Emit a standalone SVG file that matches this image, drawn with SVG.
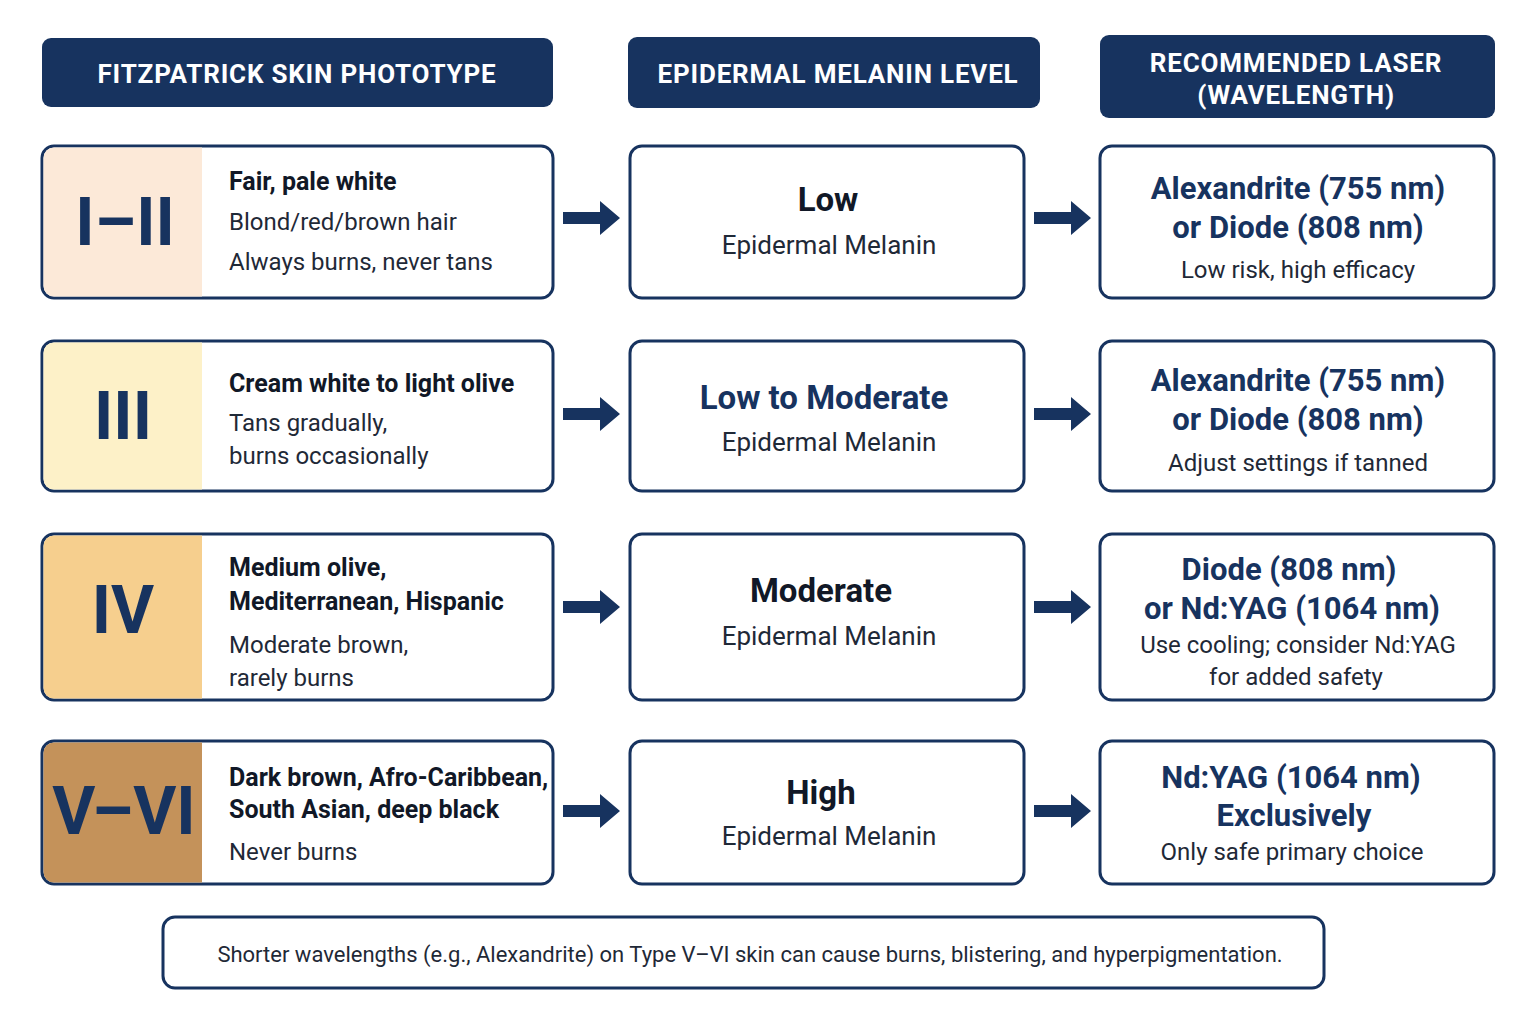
<svg xmlns="http://www.w3.org/2000/svg" width="1536" height="1023" viewBox="0 0 1536 1023">
<style>
text{font-family:Roboto,"Liberation Sans",sans-serif}
.hdr{fill:#17335f}
.ht{fill:#fff;font-weight:700;font-size:26px;text-anchor:middle;letter-spacing:0.8px}
.box{fill:#fff;stroke:#17335f;stroke-width:3}
.num{fill:#17335f;font-weight:700;font-size:66px;text-anchor:middle}
.b{fill:#111827;font-weight:700;font-size:25px}
.r{fill:#1f2937;font-size:24px}
.mb{fill:#111827;font-weight:700;font-size:33px;text-anchor:middle}
.mbn{fill:#17335f;font-weight:700;font-size:33px;text-anchor:middle}
.mr{fill:#1f2937;font-size:26px;text-anchor:middle}
.lb{fill:#17335f;font-weight:700;font-size:31px;text-anchor:middle}
.lr{fill:#1f2937;font-size:24px;text-anchor:middle}
.arr{fill:#17335f}
</style>
<rect width="1536" height="1023" fill="#fff"/>
<g id="headers">
<rect class="hdr" x="42" y="38" width="511" height="69" rx="9"/>
<text class="ht" x="297" y="83">FITZPATRICK SKIN PHOTOTYPE</text>
<rect class="hdr" x="628" y="37" width="412" height="71" rx="9"/>
<text class="ht" x="838" y="83">EPIDERMAL MELANIN LEVEL</text>
<rect class="hdr" x="1100" y="35" width="395" height="83" rx="9"/>
<text class="ht" x="1296" y="72">RECOMMENDED LASER</text>
<text class="ht" x="1296" y="104">(WAVELENGTH)</text>
</g>
<defs>
<path id="ar" d="M0,-6 H37 V-17 L57,0 L37,17 V6 H0 Z"/>
</defs>
<g id="connectors" class="arr">
<use href="#ar" x="563" y="218"/><use href="#ar" x="1034" y="218"/>
<use href="#ar" x="563" y="414"/><use href="#ar" x="1034" y="414"/>
<use href="#ar" x="563" y="607"/><use href="#ar" x="1034" y="607"/>
<use href="#ar" x="563" y="811"/><use href="#ar" x="1034" y="811"/>
</g>
<g id="row1">
<rect class="box" x="42" y="146" width="511" height="152" rx="12"/>
<path d="M54,147.5 H202 V296.5 H54 A10.5,10.5 0 0 1 43.5,286 V158 A10.5,10.5 0 0 1 54,147.5Z" fill="#fce9d8"/>
<text class="num" x="125" y="245">I–II</text>
<text class="b" x="229" y="190">Fair, pale white</text>
<text class="r" x="229" y="230">Blond/red/brown hair</text>
<text class="r" x="229" y="270">Always burns, never tans</text>
<rect class="box" x="630" y="146" width="394" height="152" rx="12"/>
<text class="mb" x="828" y="211">Low</text>
<text class="mr" x="829" y="254">Epidermal Melanin</text>
<rect class="box" x="1100" y="146" width="394" height="152" rx="12"/>
<text class="lb" x="1298" y="199">Alexandrite (755 nm)</text>
<text class="lb" x="1298" y="238">or Diode (808 nm)</text>
<text class="lr" x="1298" y="278">Low risk, high efficacy</text>
</g>
<g id="row2">
<rect class="box" x="42" y="341" width="511" height="150" rx="12"/>
<path d="M54,342.5 H202 V489.5 H54 A10.5,10.5 0 0 1 43.5,479 V353 A10.5,10.5 0 0 1 54,342.5Z" fill="#fdf1c8"/>
<text class="num" x="123" y="439">III</text>
<text class="b" x="229" y="392">Cream white to light olive</text>
<text class="r" x="229" y="431">Tans gradually,</text>
<text class="r" x="229" y="464">burns occasionally</text>
<rect class="box" x="630" y="341" width="394" height="150" rx="12"/>
<text class="mbn" x="824" y="409">Low to Moderate</text>
<text class="mr" x="829" y="451">Epidermal Melanin</text>
<rect class="box" x="1100" y="341" width="394" height="150" rx="12"/>
<text class="lb" x="1298" y="391">Alexandrite (755 nm)</text>
<text class="lb" x="1298" y="430">or Diode (808 nm)</text>
<text class="lr" x="1298" y="471">Adjust settings if tanned</text>
</g>
<g id="row3">
<rect class="box" x="42" y="534" width="511" height="166" rx="12"/>
<path d="M54,535.5 H202 V698.5 H54 A10.5,10.5 0 0 1 43.5,688 V546 A10.5,10.5 0 0 1 54,535.5Z" fill="#f6cf8e"/>
<text class="num" x="123" y="633">IV</text>
<text class="b" x="229" y="576">Medium olive,</text>
<text class="b" x="229" y="610">Mediterranean, Hispanic</text>
<text class="r" x="229" y="653">Moderate brown,</text>
<text class="r" x="229" y="686">rarely burns</text>
<rect class="box" x="630" y="534" width="394" height="166" rx="12"/>
<text class="mb" x="821" y="602">Moderate</text>
<text class="mr" x="829" y="645">Epidermal Melanin</text>
<rect class="box" x="1100" y="534" width="394" height="166" rx="12"/>
<text class="lb" x="1289" y="580">Diode (808 nm)</text>
<text class="lb" x="1292" y="619">or Nd:YAG (1064 nm)</text>
<text class="lr" x="1298" y="653">Use cooling; consider Nd:YAG</text>
<text class="lr" x="1296" y="685">for added safety</text>
</g>
<g id="row4">
<rect class="box" x="42" y="741" width="511" height="143" rx="12"/>
<path d="M54,742.5 H202 V882.5 H54 A10.5,10.5 0 0 1 43.5,872 V753 A10.5,10.5 0 0 1 54,742.5Z" fill="#c4925a"/>
<text class="num" x="124" y="834" font-size="62">V–VI</text>
<text class="b" x="229" y="786" font-size="24">Dark brown, Afro-Caribbean,</text>
<text class="b" x="229" y="818" font-size="24">South Asian, deep black</text>
<text class="r" x="229" y="860">Never burns</text>
<rect class="box" x="630" y="741" width="394" height="143" rx="12"/>
<text class="mb" x="821" y="804">High</text>
<text class="mr" x="829" y="845">Epidermal Melanin</text>
<rect class="box" x="1100" y="741" width="394" height="143" rx="12"/>
<text class="lb" x="1291" y="788" font-size="30">Nd:YAG (1064 nm)</text>
<text class="lb" x="1294" y="826" font-size="30">Exclusively</text>
<text class="lr" x="1292" y="860">Only safe primary choice</text>
</g>
<g id="footer">
<rect class="box" x="163" y="917" width="1161" height="71" rx="12"/>
<text x="750" y="962" text-anchor="middle" fill="#1f2937" font-size="22">Shorter wavelengths (e.g., Alexandrite) on Type V–VI skin can cause burns, blistering, and hyperpigmentation.</text>
</g>
</svg>
